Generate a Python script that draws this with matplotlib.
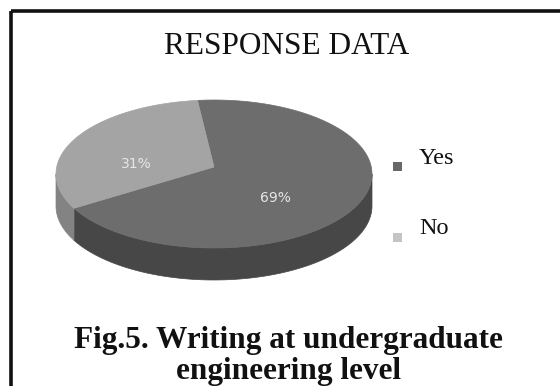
import numpy as np
import matplotlib.pyplot as plt
from matplotlib.patches import Polygon, Rectangle

# Survey responses
labels = ["Yes", "No"]
shares = [69, 31]
pct_labels = ["69%", "31%"]

title = "RESPONSE DATA"
caption = ["Fig.5. Writing at undergraduate", "engineering level"]

top_colors = ["#6d6d6d", "#a4a4a4"]
side_colors = ["#474747", "#838383"]
key_colors = ["#686868", "#c4c4c4"]

fig = plt.figure(figsize=(5.6, 3.86), dpi=100)
ax = fig.add_axes([0, 0, 1, 1])
ax.set_xlim(0, 560)
ax.set_ylim(386, 0)
ax.axis("off")

# frame around the figure
ax.add_patch(Rectangle((10.5, 10.5), 560, 400, fill=False, lw=2.6, ec="#111111"))

# 3-D pie geometry (ellipse in pixel space, apex raised for perspective)
cx, cy, rx, ry, depth = 214, 174, 158, 74, 32
apex_y = cy - 7
start = 207.6


def arc(a, b, n=120):
    t = np.radians(np.linspace(a, b, n))
    return cx + rx * np.cos(t), cy - ry * np.sin(t)


fracs = np.array(shares, dtype=float) / sum(shares)
edges = start + 360 * np.concatenate([[0], np.cumsum(fracs)])

# visible side walls (front half of the ellipse)
for i in range(len(shares)):
    a, b = edges[i], edges[i + 1]
    for lo, hi in [(180, 360), (540, 720)]:
        s, e = max(a, lo), min(b, hi)
        if e > s:
            x, y = arc(s, e)
            xs = np.concatenate([x, x[::-1]])
            ys = np.concatenate([y, y[::-1] + depth])
            ax.add_patch(Polygon(np.column_stack([xs, ys]), closed=True,
                                 fc=side_colors[i], ec=side_colors[i], lw=0.5))

# top faces
for i in range(len(shares)):
    x, y = arc(edges[i], edges[i + 1])
    xs = np.concatenate([[cx], x])
    ys = np.concatenate([[apex_y], y])
    ax.add_patch(Polygon(np.column_stack([xs, ys]), closed=True,
                         fc=top_colors[i], ec=top_colors[i], lw=0.5))

# percentage labels on the slices
for i in range(len(shares)):
    mid = np.radians((edges[i] + edges[i + 1]) / 2)
    lx = cx + 0.5 * rx * np.cos(mid) - 8
    ly = cy - 0.5 * ry * np.sin(mid) + 7
    ax.text(lx, ly, pct_labels[i], ha="center", va="center",
            fontsize=10, color="#e6e6e6", family="DejaVu Sans")

# title
ax.text(287, 47, title, ha="center", va="center", fontsize=22.5,
        family="Liberation Serif", color="#111111")

# legend
for i, lab in enumerate(labels):
    ty = 158 + i * 71
    ax.add_patch(Rectangle((393, ty + 4), 9, 9, fc=key_colors[i], ec="none"))
    ax.text(419, ty, lab, ha="left", va="center", fontsize=17.5,
            family="Liberation Serif", color="#111111")

# caption
ax.text(288, 348, caption[0], ha="center", va="baseline", fontsize=22.5,
        family="Liberation Serif", weight="bold", color="#111111")
ax.text(288, 379, caption[1], ha="center", va="baseline", fontsize=22.5,
        family="Liberation Serif", weight="bold", color="#111111")

fig.savefig("out.png", dpi=100)
